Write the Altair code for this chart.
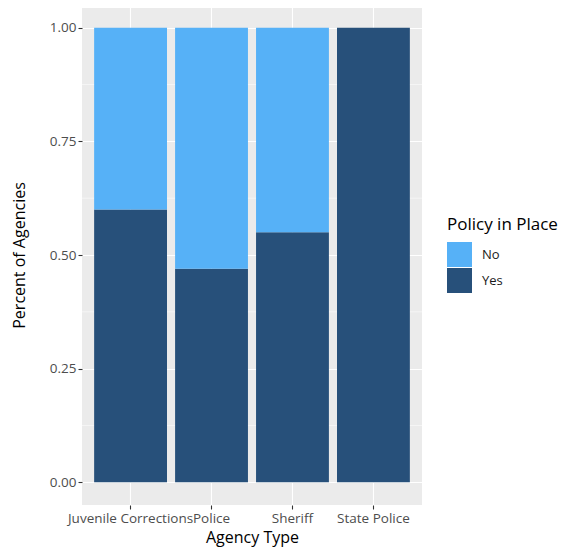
import altair as alt
import pandas as pd

agencies = ["Juvenile Corrections", "Police", "Sheriff", "State Police"]
yes_share = [0.60, 0.47, 0.55, 1.00]
no_share = [0.40, 0.53, 0.45, 0.00]
policy_levels = ["No", "Yes"]
policy_colors = ["#56B1F7", "#27507A"]
y_ticks = [0.0, 0.25, 0.5, 0.75, 1.0]
y_minor = [0.125, 0.375, 0.625, 0.875]

rows = []
for a, y, n in zip(agencies, yes_share, no_share):
    rows.append({"agency": a, "policy": "Yes", "share": y, "ord": 0})
    rows.append({"agency": a, "policy": "No", "share": n, "ord": 1})
df = pd.DataFrame(rows)
minor_df = pd.DataFrame({"v": y_minor})

FONT = "Open Sans"

x_scale = alt.Scale(domain=agencies, paddingInner=0.1, paddingOuter=0.15)
y_scale = alt.Scale(domain=[-0.05, 1.05], nice=False, zero=False)

minor = alt.Chart(minor_df).mark_rule(color="white", strokeWidth=0.55).encode(
    y=alt.Y("v:Q", scale=y_scale)
)

bars = alt.Chart(df).mark_bar().encode(
    x=alt.X(
        "agency:N",
        scale=x_scale,
        sort=agencies,
        axis=alt.Axis(
            title="Agency Type",
            labelAngle=0,
            labelOverlap=False,
            bandPosition=0.5,
            grid=True,
        ),
    ),
    y=alt.Y(
        "share:Q",
        stack="zero",
        scale=y_scale,
        axis=alt.Axis(
            title="Percent of Agencies",
            values=y_ticks,
            format=".2f",
            grid=True,
        ),
    ),
    color=alt.Color(
        "policy:N",
        scale=alt.Scale(domain=policy_levels, range=policy_colors),
        legend=alt.Legend(
            title="Policy in Place",
            orient="none",
            legendX=365,
            legendY=212,
            symbolType="square",
            symbolSize=625,
            symbolStrokeWidth=0,
            symbolOpacity=1,
            rowPadding=1,
            labelOffset=10,
        ),
    ),
    order=alt.Order("ord:Q"),
)

chart = (
    alt.layer(minor, bars)
    .properties(
        width=340,
        height=500,
        autosize=alt.AutoSizeParams(type="none"),
        padding={"left": 74, "top": -3, "right": 137, "bottom": 45},
    )
    .configure_view(fill="#EBEBEB", stroke=None)
    .configure_axis(
        gridColor="white",
        gridWidth=1.1,
        domain=False,
        tickColor="#333333",
        tickSize=4,
        tickWidth=1.1,
        labelColor="#4D4D4D",
        labelFont=FONT,
        labelFontSize=13.5,
        labelPadding=2,
        titleFont=FONT,
        titleFontSize=16,
        titleFontWeight="normal",
        titleColor="black",
    )
    .configure_axisX(titlePadding=5)
    .configure_axisY(titlePadding=22)
    .configure_legend(
        titleFont=FONT,
        titleFontSize=17,
        titleFontWeight="normal",
        titleColor="black",
        labelFont=FONT,
        labelFontSize=13,
        labelColor="#1A1A1A",
        titlePadding=8,
    )
)

chart.save("out.html", embed_options={"renderer": "svg", "actions": False})
